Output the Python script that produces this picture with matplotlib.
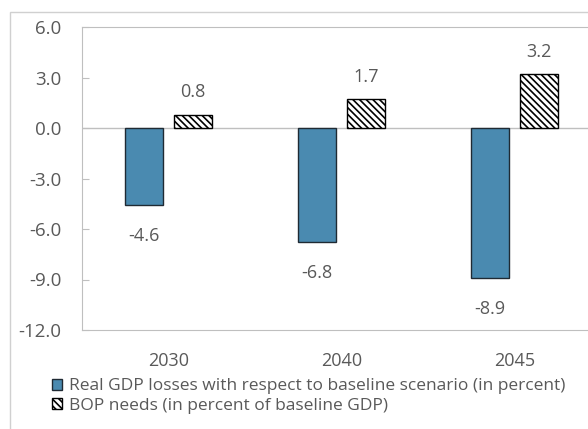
import matplotlib.pyplot as plt
import numpy as np

plt.rcParams['font.family'] = ['Open Sans', 'DejaVu Sans']
plt.rcParams['hatch.linewidth'] = 1.2

years = ['2030', '2040', '2045']
gdp_losses = [-4.6, -6.8, -8.9]
bop_needs = [0.8, 1.7, 3.2]
yticks = [6.0, 3.0, 0.0, -3.0, -6.0, -9.0, -12.0]

gray = '#595959'
line_gray = '#bfbfbf'

fig = plt.figure(figsize=(5.88, 4.29), dpi=100)
# chart frame
fig.patches.append(plt.Rectangle((10 / 588, -0.1), 1.0, 1 - 12 / 429 + 0.1,
                                 transform=fig.transFigure, fill=False,
                                 edgecolor='#d0d0d0', linewidth=1))
ax = fig.add_axes([82 / 588, 1 - 330 / 429, 519 / 588, 303 / 429])

x = np.arange(len(years))
w = 0.22
off = 0.142
ax.bar(x - off, gdp_losses, w, color='#4a8ab0', edgecolor='#1f2a33', linewidth=1,
       label='Real GDP losses with respect to baseline scenario (in percent)', zorder=3)
ax.bar(x + off, bop_needs, w, color='white', edgecolor='black', hatch='\\\\\\\\\\',
       linewidth=1, label='BOP needs (in percent of baseline GDP)', zorder=3)

for xi, v in zip(x - off, gdp_losses):
    ax.text(xi, v - 1.3, f'{v:.1f}', ha='center', va='top', fontsize=13, color=gray)
for xi, v in zip(x + off, bop_needs):
    ax.text(xi, v + 0.8, f'{v:.1f}', ha='center', va='bottom', fontsize=13, color=gray)

ax.axhline(0, color=line_gray, linewidth=1, zorder=2)
ax.set_xlim(-0.5, 2.5)
ax.set_ylim(-12, 6)
ax.set_yticks(yticks)
ax.set_yticklabels([f'{t:.1f}' for t in yticks])
ax.set_xticks(x)
ax.set_xticklabels(years)
ax.tick_params(axis='y', direction='in', length=5, color=line_gray, labelcolor=gray,
               labelsize=13.5, pad=15)
ax.tick_params(axis='x', length=0, labelcolor=gray, labelsize=13, pad=16)
for s in ['left', 'top', 'bottom']:
    ax.spines[s].set_color(line_gray)
ax.spines['right'].set_visible(False)

ax.legend(loc='upper left', bbox_to_anchor=(-0.058, -0.16), frameon=False,
          fontsize=12.5, labelcolor=gray, handlelength=0.6, handleheight=0.6,
          handletextpad=0.36, labelspacing=0.2, borderpad=0, borderaxespad=0)

fig.savefig('out.png', dpi=100)
